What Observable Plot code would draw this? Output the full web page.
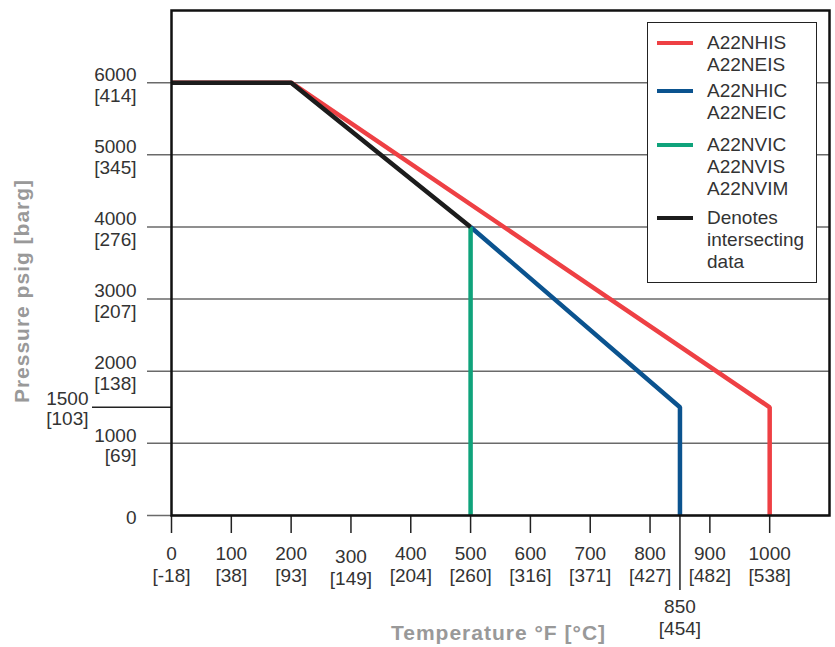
<!DOCTYPE html>
<html><head><meta charset="utf-8">
<script src="https://cdn.jsdelivr.net/npm/d3@7"></script>
<script src="https://cdn.jsdelivr.net/npm/@observablehq/plot@0.6"></script>
<style>
body{margin:0;background:#fff;}
#wrap{position:relative;width:835px;height:647px;font-family:"Liberation Sans",Arial,sans-serif;color:#333;}
#legend{position:absolute;left:647px;top:22px;width:170px;height:261px;box-sizing:border-box;border:1.5px solid #222;background:#fff;padding-top:9px;}
.item{display:flex;align-items:flex-start;}
.item:nth-child(1){margin-bottom:4px;}
.item:nth-child(2){margin-bottom:10px;}
.item:nth-child(3){margin-bottom:7px;}
.sw{width:36px;height:4px;margin-left:9px;margin-top:9px;margin-right:14px;flex:none;}
.lab{font-size:19px;line-height:22px;color:#333;}
g[font-weight="bold"] text{letter-spacing:1px;}
</style></head>
<body><div id="wrap"></div>
<script>
// ---- data ----
const tempTicksF = [0,100,200,300,400,500,600,700,800,900,1000];
const tempTicksC = ["-18","38","93","149","204","260","316","371","427","482","538"];
const pressTicksPsig = [0,1000,2000,3000,4000,5000,6000];
const pressTicksBarg = [null,"69","138","207","276","345","414"];
const extraTempF = 850, extraTempC = "454";
const extraPressPsig = 1500, extraPressBarg = "103";

const seriesLabels = [["A22NHIS","A22NEIS"],["A22NHIC","A22NEIC"],["A22NVIC","A22NVIS","A22NVIM"],["Denotes","intersecting","data"]];
const seriesColors = ["#ee4044","#0b538f","#0fa37b","#1c1c1c"];

const hisT = [0,200,1000,1000];   const hisP = [6000,6000,1500,0];
const hicT = [500,850,850];       const hicP = [4000,1500,0];
const nvT  = [500,500];           const nvP  = [4000,0];
const comT = [0,200,500];         const comP = [6000,6000,4000];

// ---- build ----
const pts = (T,P) => T.map((t,i)=>({t, p:P[i]}));
const yLab = pressTicksPsig.map((v,i)=>({v, text: pressTicksBarg[i] ? `${v}\n[${pressTicksBarg[i]}]` : `${v}`}));
const xLab = tempTicksF.map((v,i)=>({v, text:`${v}\n[${tempTicksC[i]}]`}));
const txt = {fontSize:19, fill:"#333"};
const lineStyle = {x:"t", y:"p", strokeWidth:4.5, strokeLinejoin:"miter", strokeLinecap:"butt"};

const chart = Plot.plot({
  width:835, height:647,
  marginTop:10, marginRight:6, marginBottom:132, marginLeft:171,
  style:{fontFamily:"Liberation Sans, Arial, sans-serif", background:"#fff", overflow:"visible"},
  x:{domain:[0,1100]},
  y:{domain:[0,7000], axis:null},
  marks:[
    Plot.ruleY(pressTicksPsig, {insetLeft:-24, stroke:"#6a6a6a", strokeWidth:1.5}),
    Plot.ruleY([extraPressPsig], {x1:0, x2:0, insetLeft:-79, stroke:"#222", strokeWidth:1.5}),
    Plot.axisX(tempTicksF, {tickSize:18, tickFormat:()=>"", stroke:"#222", strokeWidth:1.5, label:null}),
    Plot.axisX([extraTempF], {tickSize:75, tickFormat:()=>"", stroke:"#222", strokeWidth:1.5, label:null}),
    Plot.text(yLab, {y:"v", text:"text", frameAnchor:"left", textAnchor:"end", dx:-35, dy:2, lineAnchor:"middle", lineHeight:1.1, ...txt}),
    Plot.text([{v:extraPressPsig, text:`${extraPressPsig}\n[${extraPressBarg}]`}], {y:"v", text:"text", frameAnchor:"left", textAnchor:"end", dx:-83, dy:1, lineAnchor:"middle", lineHeight:1.1, ...txt}),
    Plot.text(xLab.filter(d=>d.v!==300), {x:"v", text:"text", frameAnchor:"bottom", lineAnchor:"top", dy:29, lineHeight:1.15, ...txt}),
    Plot.text(xLab.filter(d=>d.v===300), {x:"v", text:"text", frameAnchor:"bottom", lineAnchor:"top", dy:32, lineHeight:1.15, ...txt}),
    Plot.text([{v:extraTempF, text:`${extraTempF}\n[${extraTempC}]`}], {x:"v", text:"text", frameAnchor:"bottom", lineAnchor:"top", dy:82, lineHeight:1.15, ...txt}),
    Plot.line(pts(hisT,hisP), {...lineStyle, stroke:seriesColors[0]}),
    Plot.line(pts(hicT,hicP), {...lineStyle, stroke:seriesColors[1]}),
    Plot.line(pts(nvT,nvP),   {...lineStyle, stroke:seriesColors[2]}),
    Plot.line(pts(comT,comP), {...lineStyle, stroke:seriesColors[3]}),
    Plot.frame({stroke:"#111", strokeWidth:2.5}),
    Plot.text(["Pressure psig [barg]"], {frameAnchor:"left", textAnchor:"middle", lineAnchor:"middle", dx:-149, dy:28, rotate:-90, fontWeight:"bold", fill:"#999", fontSize:21}),
    Plot.text(["Temperature °F [°C]"], {frameAnchor:"bottom", textAnchor:"middle", lineAnchor:"middle", dx:-2, dy:118, fontWeight:"bold", fill:"#999", fontSize:21})
  ]
});
const wrap = document.getElementById("wrap");
wrap.appendChild(chart);

// legend
const lg = document.createElement("div");
lg.id = "legend";
seriesLabels.forEach((lines,i)=>{
  const it = document.createElement("div"); it.className="item";
  const sw = document.createElement("div"); sw.className="sw"; sw.style.background = seriesColors[i];
  const lab = document.createElement("div"); lab.className="lab"; lab.innerHTML = lines.join("<br>");
  it.appendChild(sw); it.appendChild(lab); lg.appendChild(it);
});
wrap.appendChild(lg);
</script>
</body></html>
